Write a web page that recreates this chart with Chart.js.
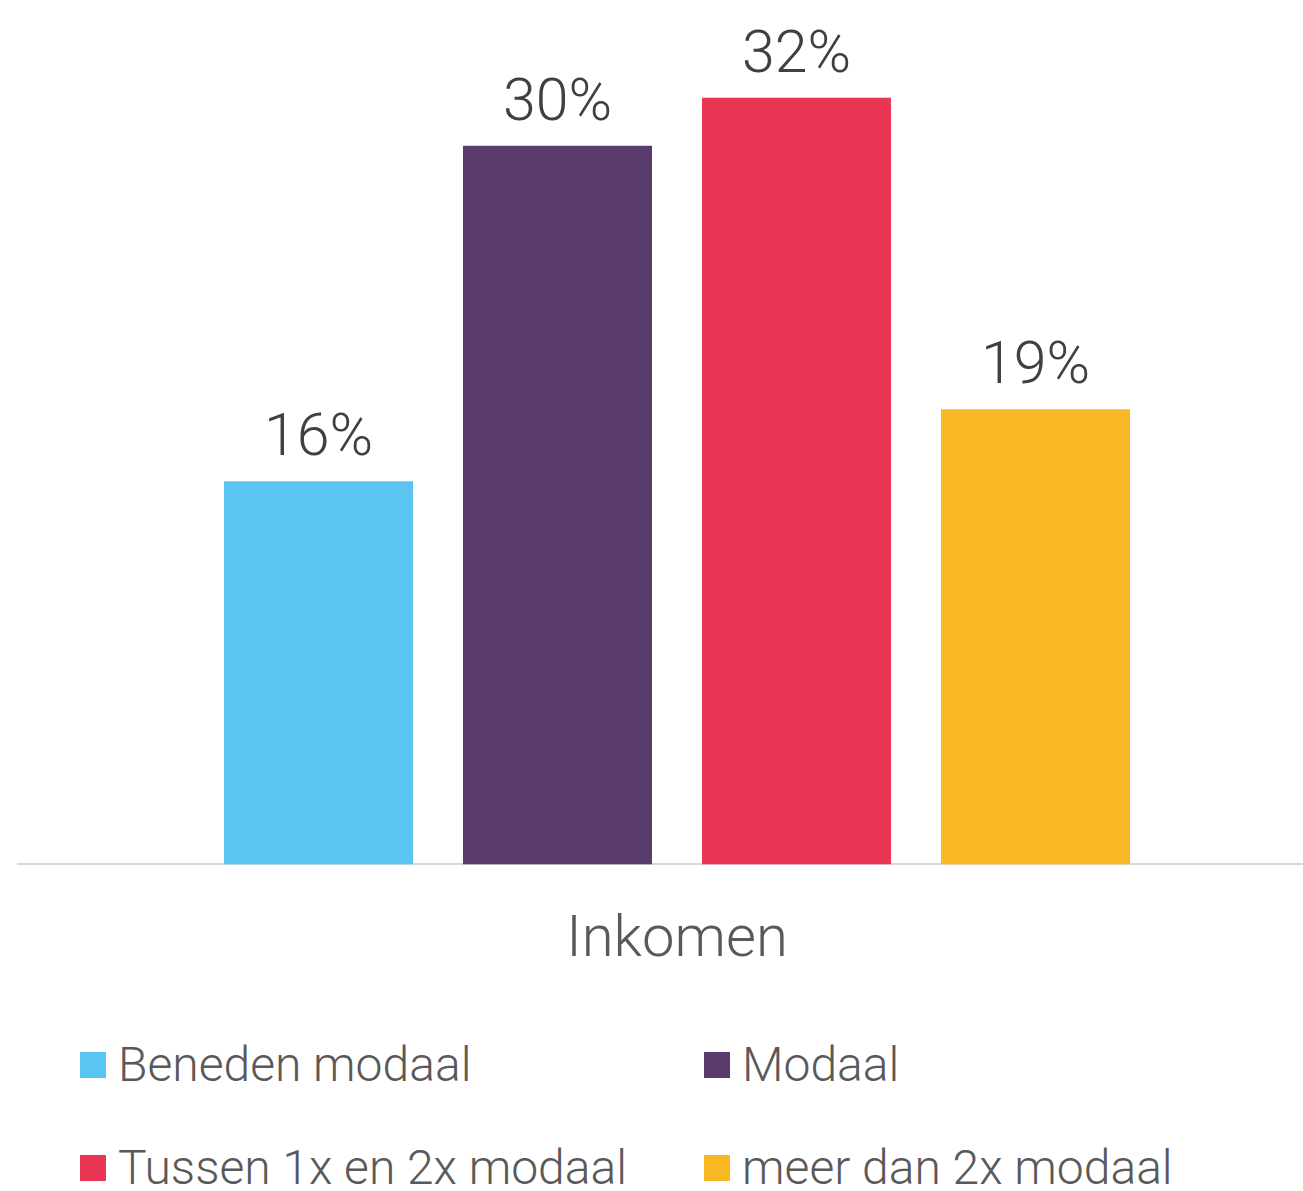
<!DOCTYPE html>
<html>
<head>
<meta charset="utf-8">
<script src="https://cdn.jsdelivr.net/npm/chart.js@4.4.0/dist/chart.umd.min.js"></script>
<style>
  body { margin: 0; background: #fff; overflow: hidden; }
  #wrap { position: relative; width: 1303px; height: 1191px; overflow: hidden; }
  #legend {
    position: absolute; left: 80px; top: 1030px;
    display: grid; grid-template-columns: 624px 560px; row-gap: 33px;
    font-family: Roboto, sans-serif; font-weight: 300; font-size: 48px;
    color: #595959; line-height: 70px;
  }
  .item { display: flex; align-items: center; white-space: nowrap; }
  .box { width: 26px; height: 26px; margin-right: 12px; flex: none; }
</style>
</head>
<body>
<div id="wrap">
  <canvas id="myChart" width="1336" height="1026"></canvas>
  <div id="legend"></div>
</div>
<script>
'use strict';

// data
var categories = ['Inkomen'];
var seriesNames = ['Beneden modaal', 'Modaal', 'Tussen 1x en 2x modaal', 'meer dan 2x modaal'];
var seriesValues = [16, 30, 32, 19];
var seriesColors = ['#5BC5F2', '#5A3B6E', '#E83654', '#F8B823'];

var datasets = [];
for (var i = 0; i < seriesNames.length; i++) {
  datasets.push({
    label: seriesNames[i],
    data: [seriesValues[i]],
    backgroundColor: seriesColors[i],
    categoryPercentage: 0.7253,
    barPercentage: 0.791
  });
}

// labels like "16%" above each bar
var valueLabels = {
  id: 'valueLabels',
  afterDatasetsDraw: function (chart) {
    var ctx = chart.ctx;
    ctx.save();
    ctx.font = '300 59px Roboto';
    ctx.fillStyle = '#404040';
    ctx.textAlign = 'center';
    ctx.textBaseline = 'alphabetic';
    chart.data.datasets.forEach(function (ds, i) {
      chart.getDatasetMeta(i).data.forEach(function (bar, j) {
        ctx.fillText(ds.data[j] + '%', bar.x, bar.y - 26);
      });
    });
    ctx.restore();
  }
};

var ctx = document.getElementById('myChart').getContext('2d');
var chart = new Chart(ctx, {
  type: 'bar',
  data: {
    labels: categories,
    datasets: datasets
  },
  options: {
    responsive: false,
    animation: false,
    layout: { padding: { left: 18, right: 0, top: 26, bottom: 8 } },
    plugins: {
      legend: { display: false },
      tooltip: { enabled: false }
    },
    scales: {
      x: {
        grid: { display: false, drawTicks: false },
        border: { display: true, color: '#d9d9d9', width: 2 },
        ticks: {
          color: '#595959',
          padding: 42,
          font: { family: 'Roboto', weight: '300', size: 58 }
        }
      },
      y: {
        display: false,
        min: 0,
        max: 35
      }
    }
  },
  plugins: [valueLabels]
});

// legend in two columns
var legendEl = document.getElementById('legend');
for (var k = 0; k < seriesNames.length; k++) {
  var item = document.createElement('div');
  item.className = 'item';
  var box = document.createElement('span');
  box.className = 'box';
  box.style.background = seriesColors[k];
  var txt = document.createElement('span');
  txt.textContent = seriesNames[k];
  item.appendChild(box);
  item.appendChild(txt);
  legendEl.appendChild(item);
}
</script>
</body>
</html>
